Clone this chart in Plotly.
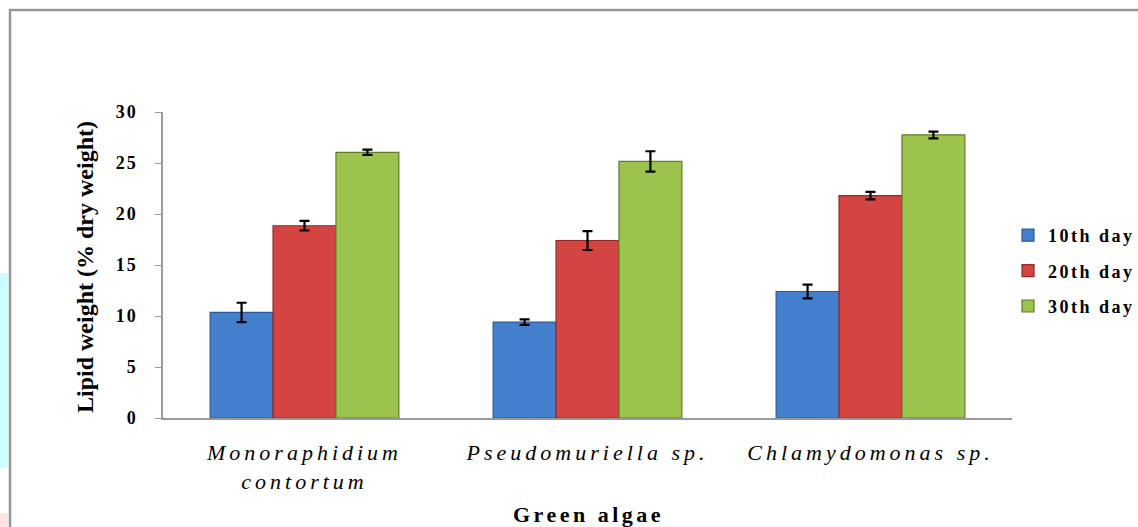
import plotly.graph_objects as go

categories = ["Monoraphidium<br>contortum", "Pseudomuriella sp.", "Chlamydomonas sp."]
series_names = ["10th day", "20th day", "30th day"]
day10 = [10.35, 9.4, 12.4]
day10_err = [0.95, 0.27, 0.67]
day20 = [18.85, 17.4, 21.8]
day20_err = [0.47, 0.93, 0.37]
day30 = [26.05, 25.15, 27.75]
day30_err = [0.26, 1.0, 0.33]
y_ticks = [0, 5, 10, 15, 20, 25, 30]

fills = ["#4580cf", "#d44442", "#9cc44c"]
lines = ["#2e5a94", "#8f2a28", "#5f7d2a"]

W, H = 1138, 527
L, R, T, B = 163, 1012, 112, 418


def px(x):
    return (x - L) / (R - L)


def py(y):
    return (B - y) / (B - T)


def spaced(text, ls):
    return f'<span style="letter-spacing:{ls}px">{text}</span>'


cat_labels = ["<br>".join(spaced(part, 4) for part in c.split("<br>")) for c in categories]

fig = go.Figure()
for name, vals, errs, fc, lc in zip(series_names, [day10, day20, day30],
                                    [day10_err, day20_err, day30_err], fills, lines):
    fig.add_trace(go.Bar(
        x=categories, y=vals, name=spaced(name, 2.5), legendgroup=name,
        marker=dict(color=fc, line=dict(color=lc, width=1.2)),
        error_y=dict(type="data", array=errs, visible=True, color="black",
                     thickness=2.2, width=5),
    ))

fig.update_layout(
    width=W, height=H,
    margin=dict(l=L, r=W - R, t=T, b=H - B, pad=0, autoexpand=False),
    paper_bgcolor="white", plot_bgcolor="white",
    barmode="group", bargap=0.333, bargroupgap=0,
    font=dict(family="Liberation Serif", color="black"),
    showlegend=True,
    legend=dict(x=px(1008), y=py(271), xanchor="left", yanchor="middle",
                font=dict(family="Liberation Serif", size=18, color="black", weight="bold"),
                traceorder="grouped", tracegroupgap=9, itemwidth=30,
                bgcolor="rgba(0,0,0,0)"),
    xaxis=dict(showline=True, linecolor="#999999", linewidth=1.5, ticks="",
               tickmode="array", tickvals=categories, ticktext=cat_labels,
               tickfont=dict(family="Liberation Serif", size=22, style="italic"),
               ticklabelstandoff=14, showgrid=False, zeroline=False, automargin=False),
    yaxis=dict(range=[0, 30], tickvals=y_ticks, ticktext=[spaced(str(v), 2) for v in y_ticks],
               showline=True, linecolor="#999999",
               linewidth=1.5, ticks="outside", ticklen=6, tickcolor="#999999",
               tickfont=dict(family="Liberation Serif", size=18, weight="bold"),
               ticklabelstandoff=14, showgrid=False, zeroline=False, automargin=False),
    annotations=[
        dict(text="<b>Lipid weight (% dry weight)</b>", textangle=-90,
             x=px(85), y=py(267), xref="paper", yref="paper", showarrow=False,
             xanchor="center", yanchor="middle",
             font=dict(family="Liberation Serif", size=24, color="black")),
        dict(text="<b>" + spaced("Green algae", 3.5) + "</b>", x=px(588), y=py(514),
             xref="paper", yref="paper", showarrow=False, xanchor="center", yanchor="middle",
             font=dict(family="Liberation Serif", size=22, color="black")),
    ],
    shapes=[
        dict(type="rect", xref="paper", yref="paper", x0=px(-5), x1=px(8), y0=py(468), y1=py(273),
             fillcolor="#ccffff", line=dict(width=0), layer="below"),
        dict(type="rect", xref="paper", yref="paper", x0=px(-5), x1=px(8), y0=py(540), y1=py(513),
             fillcolor="#ffe2e2", line=dict(width=0), layer="below"),
        dict(type="rect", xref="paper", yref="paper", x0=px(10), x1=px(1145), y0=py(540), y1=py(10),
             fillcolor="rgba(0,0,0,0)", line=dict(color="#969696", width=2.5), layer="below"),
    ],
)

fig.write_html("out.html", config={"displayModeBar": False},
               post_script="document.body.style.margin='0';document.body.style.overflow='hidden';")
